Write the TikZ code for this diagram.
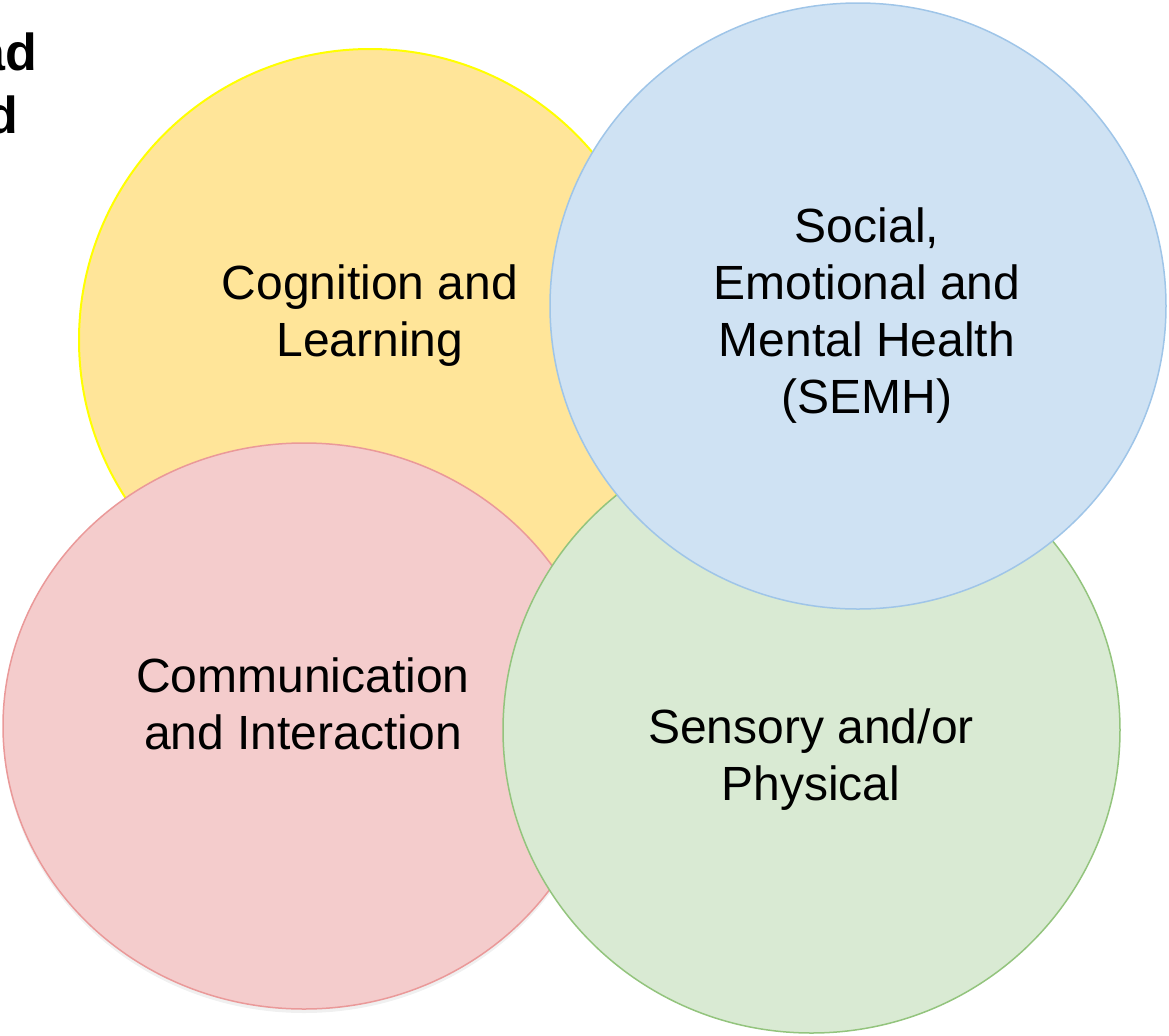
\documentclass[tikz,border=0pt]{standalone}
\usepackage{xcolor}
\usepackage{fontspec}
\setmainfont{Liberation Sans}
\usetikzlibrary{shadows}

\definecolor{cogfill}{HTML}{FFE599}
\definecolor{cogline}{HTML}{FFFF00}
\definecolor{comfill}{HTML}{F4CCCC}
\definecolor{comline}{HTML}{EA9999}
\definecolor{sensfill}{HTML}{D9EAD3}
\definecolor{sensline}{HTML}{93C47D}
\definecolor{semhfill}{HTML}{CFE2F3}
\definecolor{semhline}{HTML}{9FC5E8}

\begin{document}
\begin{tikzpicture}[x=0.5pt,y=-0.5pt,
  areatext/.style={align=center,font=\fontsize{24}{28.5}\selectfont}]
          \useasboundingbox (0,0) rectangle (1169,1035);
          \coordinate (cog) at (370,340);
          \coordinate (com) at (304,726);
          \coordinate (sens) at (811.5,730);
          \coordinate (semh) at (858,306);

          \draw[cogline, fill=cogfill, line width=1pt] (cog) ellipse [x radius=291, y radius=291];
          \draw[comline, fill=comfill, line width=0.75pt,
            drop shadow={opacity=0.12, shadow xshift=0pt, shadow yshift=-2pt}]
            (com) ellipse [x radius=301, y radius=283];
          \draw[sensline, fill=sensfill, line width=0.75pt] (sens) ellipse [x radius=308.5, y radius=303];
          \draw[semhline, fill=semhfill, line width=0.75pt] (semh) ellipse [x radius=308, y radius=303];

          \node[areatext] (coglabel) at (370,316) {Cognition and\\Learning};
          \node[areatext] (comlabel) at (303,704) {Communication\\and Interaction};
          \node[areatext] (senslabel) at (811,760) {Sensory and/or\\Physical};
          \node[areatext] (semhlabel) at (867,316) {Social,\\Emotional and\\Mental Health\\(SEMH)};

          \node[anchor=base east, font=\fontsize{26}{31}\selectfont\bfseries] (heada) at (44,70) {ad};
          \node[anchor=base east, font=\fontsize{26}{31}\selectfont\bfseries] (headb) at (25,133) {d};
\end{tikzpicture}
\end{document}
